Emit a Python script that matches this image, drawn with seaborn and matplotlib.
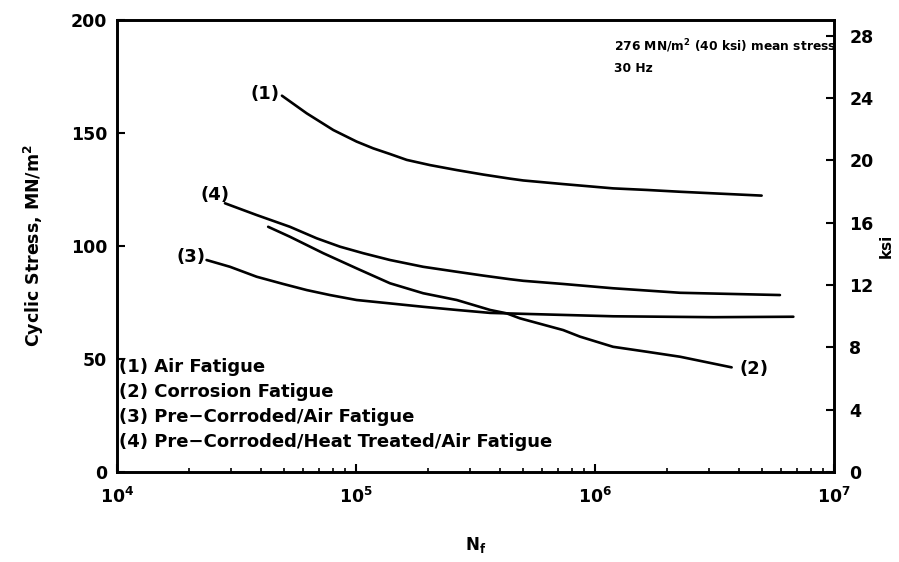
import numpy as np
import pandas as pd
import matplotlib
matplotlib.use("Agg")
import matplotlib.pyplot as plt
import seaborn as sns

# ---- data ----
n1 = [49000, 62200, 80400, 100600, 118100, 138800, 163000, 204000, 264000,
      341000, 441000, 501000, 736000, 1190000, 1650000, 2270000, 3130000, 4980000]
s1 = [166.5, 158.7, 151.3, 146.2, 143.2, 140.7, 138.1, 135.8, 133.6,
      131.6, 129.8, 129.0, 127.4, 125.5, 124.8, 124.0, 123.3, 122.3]

n2 = [42900, 52900, 73000, 100600, 138800, 191000, 264000, 364000, 427000,
      485000, 736000, 865000, 1190000, 1650000, 2270000, 3730000]
s2 = [108.5, 104.1, 96.8, 90.1, 83.5, 79.1, 76.1, 71.7, 70.2,
      68.0, 62.8, 59.9, 55.4, 53.2, 51.0, 46.3]

n3 = [23700, 29700, 38400, 49600, 62200, 77800, 100600, 138800, 191000,
      264000, 364000, 535000, 1190000, 3130000, 6760000]
s3 = [93.8, 90.8, 86.4, 83.2, 80.5, 78.3, 76.1, 74.6, 73.1,
      71.7, 70.4, 69.9, 68.9, 68.5, 68.7]

n4 = [28300, 38400, 52900, 68500, 85700, 107300, 138800, 191000, 264000,
      341000, 441000, 501000, 736000, 1190000, 2270000, 3670000, 5940000]
s4 = [118.9, 113.7, 108.5, 103.4, 99.7, 96.8, 93.8, 90.8, 88.6,
      86.9, 85.3, 84.6, 83.2, 81.3, 79.3, 78.8, 78.3]

curve_ids = ["(1)", "(2)", "(3)", "(4)"]
legend_lines = ["(1) Air Fatigue", "(2) Corrosion Fatigue",
                "(3) Pre\u2212Corroded/Air Fatigue",
                "(4) Pre\u2212Corroded/Heat Treated/Air Fatigue"]
left_ticks = [0, 50, 100, 150, 200]
right_ticks = [0, 4, 8, 12, 16, 20, 24, 28]
x_ticks = [1e4, 1e5, 1e6, 1e7]
MPA_PER_KSI = 6.895

frames = []
for cid, n, s in zip(curve_ids, [n1, n2, n3, n4], [s1, s2, s3, s4]):
    frames.append(pd.DataFrame({"N": n, "S": s, "curve": cid}))
df = pd.concat(frames, ignore_index=True)

sns.set_style("ticks")
plt.rcParams["font.family"] = ["DejaVu Sans"]
plt.rcParams["font.weight"] = "bold"
for k in ["text.color", "axes.labelcolor", "xtick.color", "ytick.color", "axes.edgecolor"]:
    plt.rcParams[k] = "black"

fig = plt.figure(figsize=(8.99, 5.62), dpi=100)
ax = fig.add_axes([117/899, 1-472/562, (834-117)/899, (472-20)/562])

sns.lineplot(data=df, x="N", y="S", hue="curve", units="curve", estimator=None,
             palette=["black"]*4, linewidth=1.9, legend=False, ax=ax, sort=False)

ax.set_xscale("log")
ax.set_xlim(1e4, 1e7)
ax.set_ylim(0, 200)
ax.set_xticks(x_ticks)
ax.set_yticks(left_ticks)
ax.set_yticklabels([str(t) for t in left_ticks])
for sp in ax.spines.values():
    sp.set_linewidth(1.9)
    sp.set_color("black")
ax.tick_params(axis="x", which="major", direction="in", length=6, width=1.5,
               labelsize=12.5, pad=11)
ax.tick_params(axis="x", which="minor", direction="in", length=3, width=1.2)
ax.tick_params(axis="y", which="major", direction="in", length=6, width=1.5,
               labelsize=12.5, pad=7)
for lab in ax.get_xticklabels() + ax.get_yticklabels():
    lab.set_fontweight("bold")

ax.set_xlabel("N$_\\mathbf{f}$", fontsize=12, fontweight="bold", labelpad=20)
ax.set_ylabel("Cyclic Stress, MN/m$^\\mathbf{2}$", fontsize=12.5, fontweight="bold", labelpad=18)

ax2 = ax.twinx()
ax2.set_ylim(0, 200/MPA_PER_KSI)
ax2.set_yticks(right_ticks)
ax2.set_yticklabels([str(t) for t in right_ticks])
ax2.tick_params(axis="y", direction="in", length=6, width=1.5, labelsize=12.5, pad=11)
for lab in ax2.get_yticklabels():
    lab.set_fontweight("bold")
ax2.set_ylabel("ksi", fontsize=11, fontweight="bold", labelpad=4)
for sp in ax2.spines.values():
    sp.set_linewidth(1.9)

# curve labels
lab_kw = dict(fontsize=13, fontweight="bold", textcoords="offset points", va="center")
ax.annotate("(1)", (n1[0], s1[0]), xytext=(-2, 1), ha="right", **lab_kw)
ax.annotate("(4)", (n4[0], s4[0]), xytext=(3, 6), ha="right", **lab_kw)
ax.annotate("(3)", (n3[0], s3[0]), xytext=(-1, 2), ha="right", **lab_kw)
ax.annotate("(2)", (n2[-1], s2[-1]), xytext=(6, -1), ha="left", **lab_kw)

# legend-like text block
for i, t in enumerate(legend_lines):
    ax.text(0.003, 0.232 - i*0.055, t, transform=ax.transAxes, ha="left", va="center",
            fontsize=13, fontweight="bold")

ax.text(0.693, 0.943, "276 MN/m$^\\mathbf{2}$ (40 ksi) mean stress", transform=ax.transAxes,
        ha="left", va="center", fontsize=8.8, fontweight="bold")
ax.text(0.693, 0.893, "30 Hz", transform=ax.transAxes, ha="left", va="center",
        fontsize=8.8, fontweight="bold")

fig.savefig("out.png", dpi=100)
